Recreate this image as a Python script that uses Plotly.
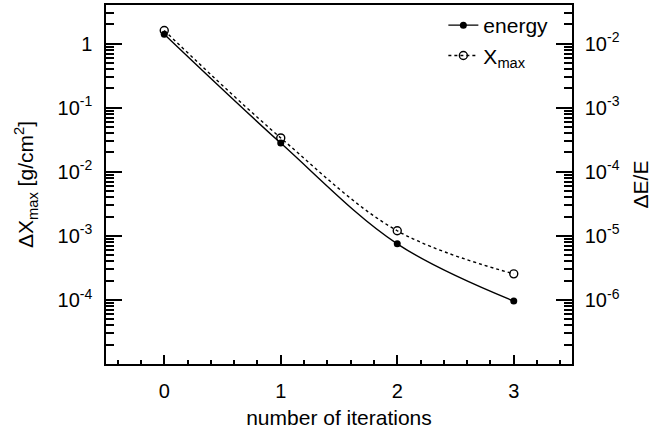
import plotly.graph_objects as go
import numpy as np

iterations = [0, 1, 2, 3]
energy_dE = [1.4e-2, 2.8e-4, 7.5e-6, 9.6e-7]       # right axis, ΔE/E
xmax_dX = [1.6, 3.37e-2, 1.2e-3, 2.55e-4]            # left axis, ΔXmax [g/cm2]

left_tickvals = [1, 1e-1, 1e-2, 1e-3, 1e-4]
left_ticktext = ["1", "10<sup>-1</sup>", "10<sup>-2</sup>", "10<sup>-3</sup>", "10<sup>-4</sup>"]
right_tickvals = [1e-2, 1e-3, 1e-4, 1e-5, 1e-6]
right_ticktext = ["10<sup>-2</sup>", "10<sup>-3</sup>", "10<sup>-4</sup>", "10<sup>-5</sup>", "10<sup>-6</sup>"]

FONT = "Liberation Sans"

fig = go.Figure()
fig.add_trace(go.Scatter(
    x=iterations, y=energy_dE, name="energy", yaxis="y2",
    mode="lines+markers", line=dict(color="black", width=1.4, shape="spline"),
    marker=dict(symbol="circle", size=7, color="black"),
))
fig.add_trace(go.Scatter(
    x=iterations, y=xmax_dX, name="X<sub>max</sub>", yaxis="y",
    mode="lines+markers", line=dict(color="black", width=1.4, dash="dot", shape="spline"),
    marker=dict(symbol="circle-open", size=8, color="black", line=dict(width=1.4)),
))

def minor_vals(lo, hi):
    vals = []
    for e in range(lo, hi + 1):
        for k in range(2, 10):
            vals.append(k * 10.0 ** e)
    return vals

axis_common = dict(showline=True, linecolor="black", linewidth=1.5, showgrid=False,
                   zeroline=False, ticks="inside", tickcolor="black", tickwidth=1.5,
                   tickfont=dict(family=FONT, size=20, color="black"))

fig.update_layout(
    width=672, height=438,
    margin=dict(l=106, r=100, t=3, b=74),
    paper_bgcolor="white", plot_bgcolor="white",
    font=dict(family=FONT, size=21, color="black"),
    showlegend=True,
    legend=dict(x=0.96, y=1.0, xanchor="right", yanchor="top",
                bgcolor="rgba(0,0,0,0)", font=dict(size=21, family=FONT),
                tracegroupgap=0, itemwidth=30),
    xaxis=dict(**axis_common, range=[-0.5, 3.5], tickmode="linear", tick0=0, dtick=1,
               ticklen=9, mirror=True, ticklabelstandoff=8,
               minor=dict(ticks="inside", ticklen=4.5, tickcolor="black", tickwidth=1.5,
                          dtick=0.2, tick0=0, showgrid=False),
               title=dict(text="number of iterations", font=dict(size=21, family=FONT),
                          standoff=10)),
    yaxis=dict(**axis_common, type="log", range=[-5, np.log10(4)],
               tickmode="array", tickvals=left_tickvals, ticktext=left_ticktext,
               ticklen=16, ticklabelstandoff=8,
               minor=dict(ticks="inside", ticklen=8, tickcolor="black", tickwidth=1.5,
                          tickmode="array", tickvals=minor_vals(-5, 0), showgrid=False),
               title=dict(text="ΔX<sub>max</sub> [g/cm<sup>2</sup>]", font=dict(size=21, family=FONT),
                          standoff=18)),
    yaxis2=dict(**axis_common, type="log", range=[-7, np.log10(4e-2)], overlaying="y", side="right",
                tickmode="array", tickvals=right_tickvals, ticktext=right_ticktext,
                ticklen=16, ticklabelstandoff=7,
                minor=dict(ticks="inside", ticklen=8, tickcolor="black", tickwidth=1.5,
                           tickmode="array", tickvals=minor_vals(-7, -2), showgrid=False),
                title=dict(text="ΔE/E", font=dict(size=21, family=FONT), standoff=15)),
)

fig.write_html("out.html")
